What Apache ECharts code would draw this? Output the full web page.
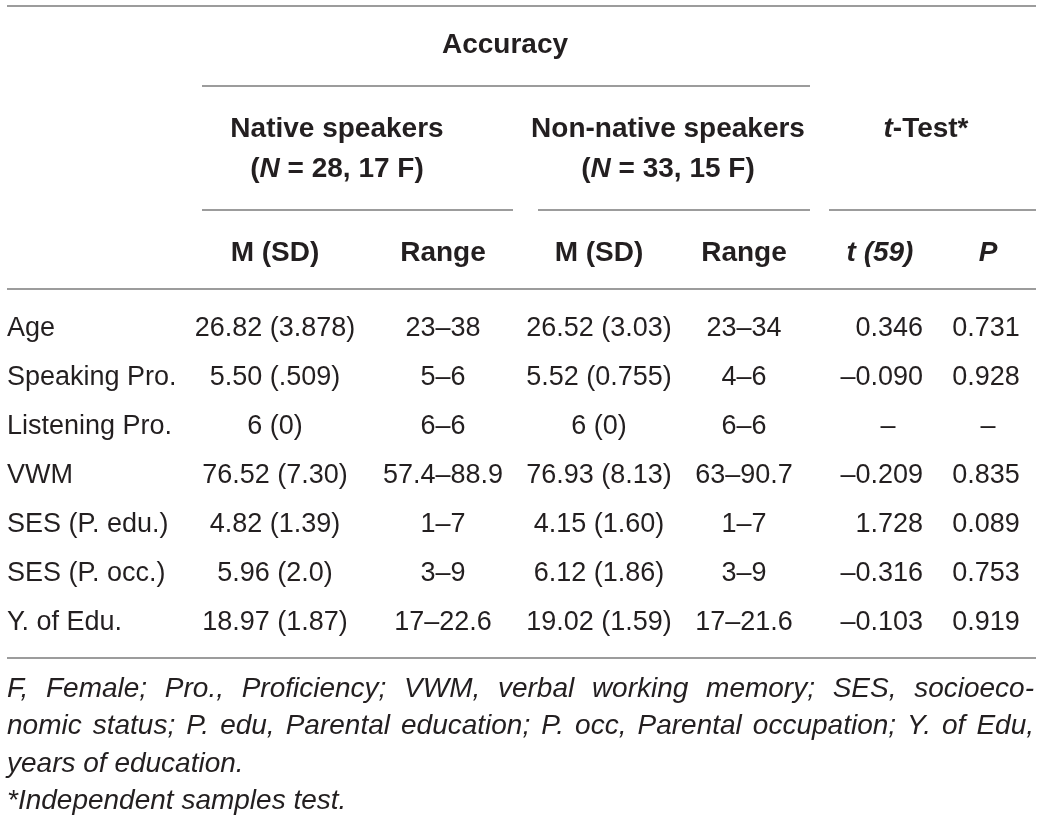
<!DOCTYPE html>
<html>
<head>
<meta charset="utf-8">
<script src="https://cdn.jsdelivr.net/npm/echarts@6/dist/echarts.min.js"></script>
<style>
html, body { margin: 0; padding: 0; background: #fff; }
#main { width: 1041px; height: 819px; }
</style>
</head>
<body>
<div id="main"></div>
<script>
// table data
var rowLabels = ['Age', 'Speaking Pro.', 'Listening Pro.', 'VWM', 'SES (P. edu.)', 'SES (P. occ.)', 'Y. of Edu.'];
var nativeMSD = ['26.82 (3.878)', '5.50 (.509)', '6 (0)', '76.52 (7.30)', '4.82 (1.39)', '5.96 (2.0)', '18.97 (1.87)'];
var nativeRange = ['23–38', '5–6', '6–6', '57.4–88.9', '1–7', '3–9', '17–22.6'];
var nonNativeMSD = ['26.52 (3.03)', '5.52 (0.755)', '6 (0)', '76.93 (8.13)', '4.15 (1.60)', '6.12 (1.86)', '19.02 (1.59)'];
var nonNativeRange = ['23–34', '4–6', '6–6', '63–90.7', '1–7', '3–9', '17–21.6'];
var tValues = ['0.346', '–0.090', '–', '–0.209', '1.728', '–0.316', '–0.103'];
var pValues = ['0.731', '0.928', '–', '0.835', '0.089', '0.753', '0.919'];

var topHeader = 'Accuracy';
var groupHeaders = ['Native speakers', 'Non-native speakers', '{i|t}-Test*'];
var groupCounts = ['({i|N} = 28, 17 F)', '({i|N} = 33, 15 F)'];
var subHeaders = ['M (SD)', 'Range', 'M (SD)', 'Range', '{i|t (59)}', '{i|P}'];

var footnotes = [
    'F, Female; Pro., Proficiency; VWM, verbal working memory; SES, socioeco-',
    'nomic status; P. edu, Parental education; P. occ, Parental occupation; Y. of Edu,',
    'years of education.',
    '*Independent samples test.'
];
var footJustify = [true, true, false, false];

// layout (pixels)
var W = 1041, H = 819;
var colX = [7, 275, 443, 599, 744, 923, 986];
var colAlign = ['left', 'center', 'center', 'center', 'center', 'right', 'center'];
var dashX = [null, null, null, null, null, 888, 988];
var rowTop = 329, rowStep = 49;
var subX = [275, 443, 599, 744, 880, 988];
var groupX = [337, 668, 926];
var rules = [
    [7, 1036, 6], [202, 810, 86],
    [202, 513, 210], [538, 810, 210], [829, 1036, 210],
    [7, 1036, 289], [7, 1036, 658]
];
var footLeft = 7, footRight = 1034, footTop = 689, footStep = 37.5;

var FONT = '"Liberation Sans", Arial, Helvetica, sans-serif';
var textColor = '#231f20';

var cells = [];
function cell(x, y, text, align, bold, italic) {
    cells.push({
        value: [x, y],
        text: text,
        label: {
            align: align,
            fontWeight: bold ? 'bold' : 'normal',
            fontStyle: italic ? 'italic' : 'normal',
            fontSize: (bold || italic) ? 28 : 27
        }
    });
}

// headers
cell(505, 45, topHeader, 'center', true);
groupHeaders.forEach(function (t, i) { cell(groupX[i], 129, t, 'center', true); });
groupCounts.forEach(function (t, i) { cell(groupX[i], 169, t, 'center', true); });
subHeaders.forEach(function (t, i) { cell(subX[i], 253, t, 'center', true); });

// body
var columns = [rowLabels, nativeMSD, nativeRange, nonNativeMSD, nonNativeRange, tValues, pValues];
columns.forEach(function (col, c) {
    col.forEach(function (v, r) {
        var y = rowTop + r * rowStep;
        if (v === '–' && dashX[c] != null) {
            cell(dashX[c], y, v, 'center');
        } else {
            cell(colX[c], y, v, colAlign[c]);
        }
    });
});

// footnote, first two lines justified
var ctx = document.createElement('canvas').getContext('2d');
ctx.font = 'italic normal 28px ' + FONT;
footnotes.forEach(function (line, i) {
    var y = footTop + i * footStep;
    if (!footJustify[i]) {
        cell(footLeft, y, line, 'left', false, true);
        return;
    }
    var words = line.split(' ');
    var widths = words.map(function (w) { return ctx.measureText(w).width; });
    var sum = widths.reduce(function (a, b) { return a + b; }, 0);
    var gap = (footRight - footLeft - sum) / (words.length - 1);
    var x = footLeft;
    words.forEach(function (w, k) {
        cell(x, y, w, 'left', false, true);
        x += widths[k] + gap;
    });
});

var ruleData = rules.map(function (r) {
    return { coords: [[r[0], r[2]], [r[1], r[2]]] };
});

var myChart = echarts.init(document.getElementById('main'));

var option = {
    backgroundColor: '#fff',
    animation: false,
    grid: { left: 0, right: 0, top: 0, bottom: 0 },
    xAxis: { type: 'value', min: 0, max: W, show: false },
    yAxis: { type: 'value', min: 0, max: H, inverse: true, show: false },
    series: [
        {
            type: 'lines',
            coordinateSystem: 'cartesian2d',
            silent: true,
            lineStyle: { color: '#9c9c9c', width: 2, opacity: 1 },
            data: ruleData
        },
        {
            type: 'scatter',
            symbol: 'circle',
            symbolSize: 1,
            itemStyle: { color: 'rgba(255,255,255,0)', opacity: 1 },
            silent: true,
            label: {
                show: true,
                position: 'inside',
                verticalAlign: 'middle',
                color: textColor,
                opacity: 1,
                fontFamily: FONT,
                formatter: function (p) { return p.data.text; },
                rich: {
                    i: { fontStyle: 'italic', fontWeight: 'bold', fontSize: 28, fontFamily: FONT, color: textColor }
                }
            },
            labelLayout: { hideOverlap: false },
            data: cells
        }
    ]
};

myChart.setOption(option);
</script>
</body>
</html>
